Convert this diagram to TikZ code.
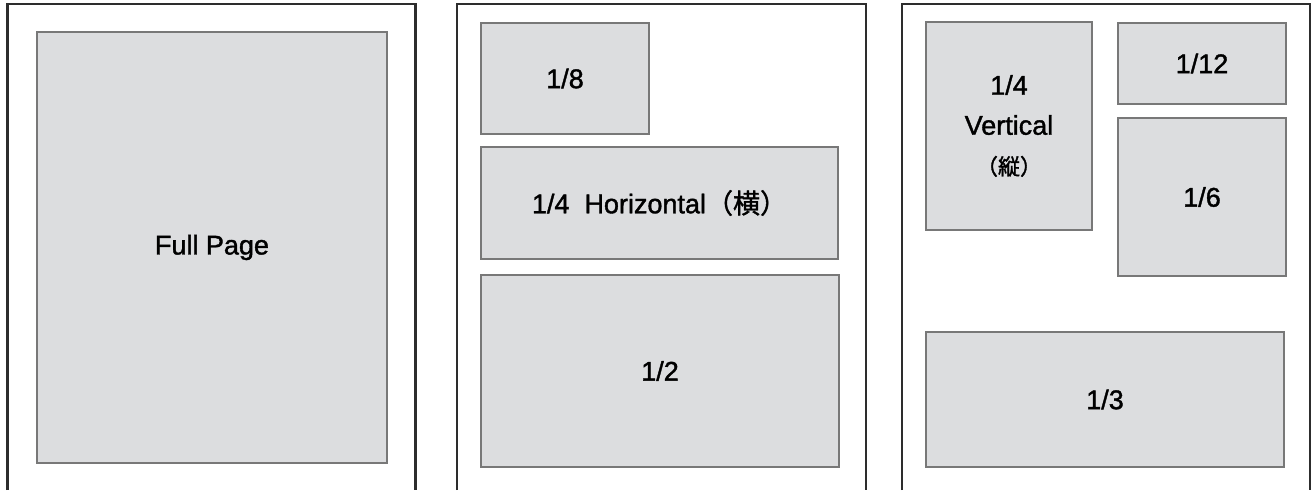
\documentclass[tikz,border=0pt]{standalone}
\usepackage{fontspec}
\setmainfont[FakeBold=1.4,AutoFakeBold=1.4]{Liberation Sans}
\newfontfamily\jpfont[FakeBold=1.4,AutoFakeBold=1.4]{Noto Sans CJK JP}
\definecolor{adgray}{RGB}{220,221,223}
\definecolor{adedge}{RGB}{120,120,120}
\definecolor{pageedge}{RGB}{45,45,45}
\tikzstyle{adbox}=[draw=adedge,fill=adgray,line width=1.3pt,inner sep=0pt,align=center,font=\fontsize{27}{40}\selectfont\bfseries]
\tikzstyle{pageframe}=[draw=pageedge,line width=2.2pt]

\begin{document}
\begin{tikzpicture}[x=1pt,y=-1pt]
  \useasboundingbox (0,0) rectangle (1312,490);
  % page outlines, open at the bottom
  \draw[pageframe] (7.5,490)--(7.5,4)--(415.5,4)--(415.5,490);
  \draw[pageframe] (457,490)--(457,4)--(866,4)--(866,490);
  \draw[pageframe] (902,490)--(902,4)--(1310,4)--(1310,490);

  \node[adbox,minimum width=350pt,minimum height=431pt] (full) at (212,247.5) {Full Page};

  \node[adbox,minimum width=168pt,minimum height=111pt] (eighth) at (565,78.5) {1/8};
  \node[adbox,minimum width=357pt,minimum height=112pt] (quarterh) at (659.5,203) {1/4\ \ Horizontal{\jpfont\bfseries （横）}};
  \node[adbox,minimum width=358pt,minimum height=192pt] (half) at (660,371) {1/2};

  \node[adbox,minimum width=166pt,minimum height=208pt] (quarterv) at (1009,126) {1/4\\Vertical\\{\jpfont\bfseries\fontsize{22}{40}\selectfont （縦）}};
  \node[adbox,minimum width=168pt,minimum height=81pt] (twelfth) at (1202,63.5) {1/12};
  \node[adbox,minimum width=168pt,minimum height=158pt] (sixth) at (1202,197) {1/6};
  \node[adbox,minimum width=358pt,minimum height=135pt] (third) at (1105,399.5) {1/3};
\end{tikzpicture}
\end{document}
